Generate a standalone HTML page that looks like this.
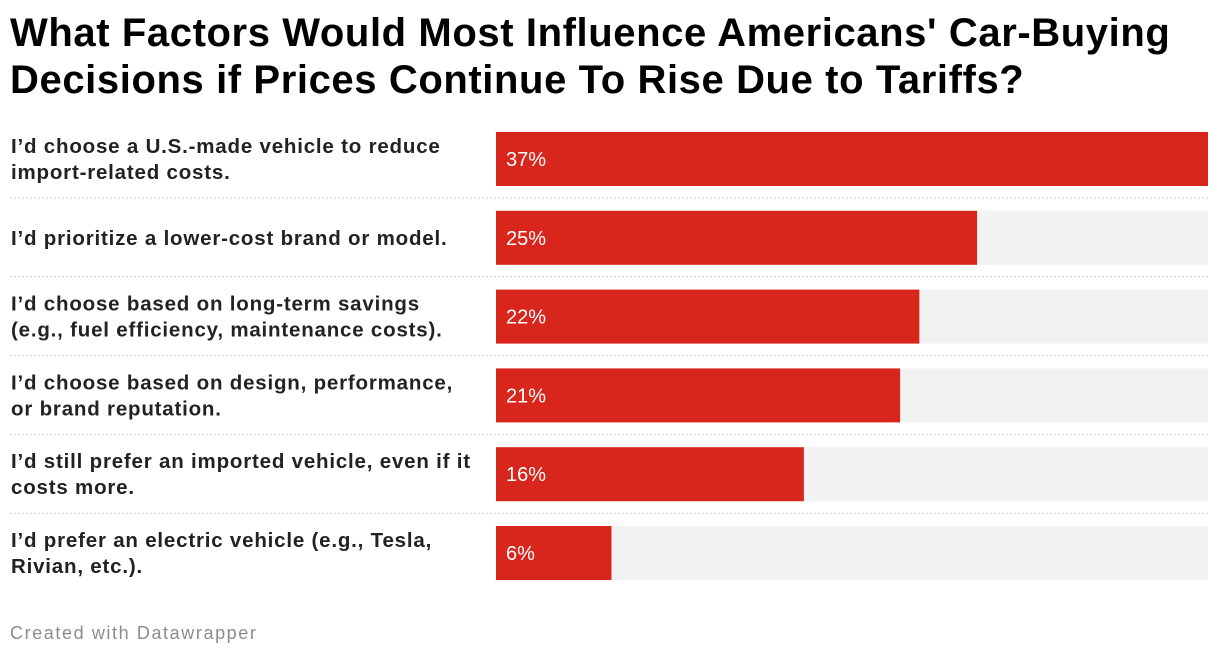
<!DOCTYPE html>
<html><head><meta charset="utf-8">
<style>
body{margin:0;background:#fff;width:1220px;height:658px;overflow:hidden;font-family:"Liberation Sans",Arial,sans-serif;}
#title{position:absolute;left:10px;top:10px;margin:0;font-size:40px;line-height:47px;font-weight:bold;color:#000;letter-spacing:0.6px;white-space:nowrap;}
#chart{position:absolute;left:0;top:0;}
#footer{position:absolute;left:10px;top:623px;font-size:18px;color:#8c8c8c;letter-spacing:1.6px;}
</style></head><body>
<h1 id="title">What Factors Would Most Influence Americans' Car-Buying<br>Decisions if Prices Continue To Rise Due to Tariffs?</h1>
<svg id="chart" width="1220" height="658"></svg>
<div id="footer">Created with Datawrapper</div>
<script>
const categories=[["I’d choose a U.S.-made vehicle to reduce","import-related costs."],["I’d prioritize a lower-cost brand or model."],["I’d choose based on long-term savings","(e.g., fuel efficiency, maintenance costs)."],["I’d choose based on design, performance,","or brand reputation."],["I’d still prefer an imported vehicle, even if it","costs more."],["I’d prefer an electric vehicle (e.g., Tesla,","Rivian, etc.)."]];
const values=[37,25,22,21,16,6];
const valueLabels=["37%","25%","22%","21%","16%","6%"];
const svg=document.getElementById('chart');
const NS='http://www.w3.org/2000/svg';
const x0=496,x1=1208,maxV=37;
const xScale=v=>x0+(v/maxV)*(x1-x0);
const rowTop=i=>132+i*78.8;
const barH=54;
function mk(t,a){const e=document.createElementNS(NS,t);for(const k in a)e.setAttribute(k,a[k]);svg.appendChild(e);return e;}
values.forEach((v,i)=>{
  const y=rowTop(i);
  const bg=mk('rect',{x:x0,y:y,width:x1-x0,height:barH,fill:'#f2f2f2'});
  
  
  const b=mk('rect',{x:x0,y:y,width:xScale(v)-x0,height:barH,fill:'#d9261c'});
  
  
  const t=mk('text',{x:x0+10,y:y+barH/2+7,fill:'#fff','font-size':'20'});
  t.textContent=valueLabels[i];
  
  
  const lines=categories[i];
  const cy=y+barH/2;
  lines.forEach((ln,j)=>{
    const ty=cy+7+(j-(lines.length-1)/2)*26;
    const l=mk('text',{x:11,y:ty,fill:'#222','font-size':'20.5','font-weight':'bold','letter-spacing':'0.8'});
    l.textContent=ln;
    
    
  });
  if(i<values.length-1){
    const sy=y+barH+12;
    const s=mk('line',{x1:10,x2:1208,y1:sy,y2:sy,stroke:'#ccc','stroke-dasharray':'2,2'});
    
    
  }
});
</script>
</body></html>
